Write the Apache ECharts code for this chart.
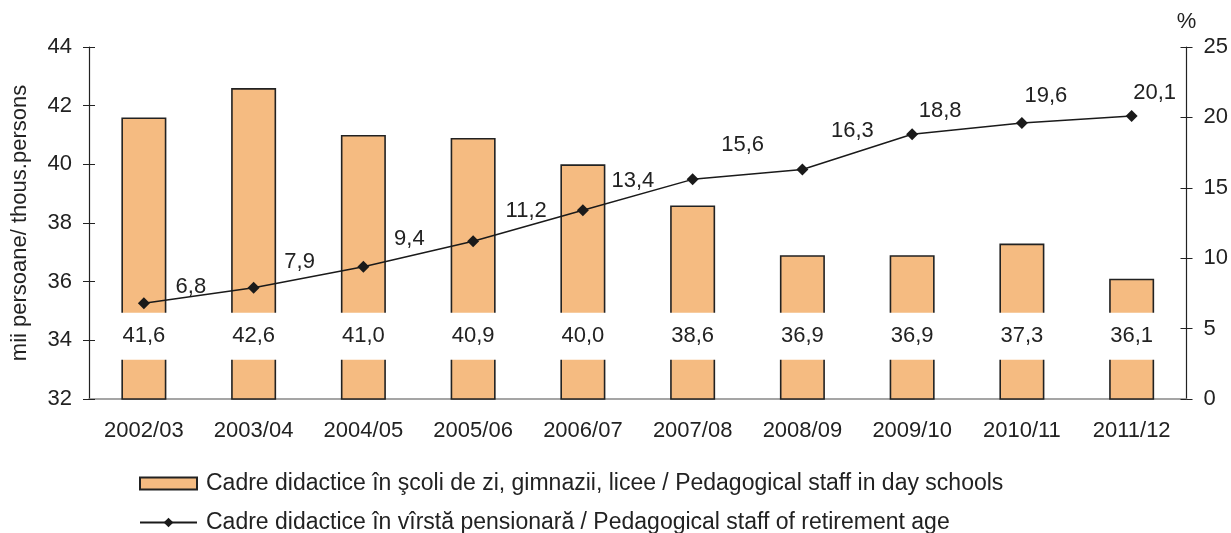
<!DOCTYPE html>
<html>
<head>
<meta charset="utf-8">
<script src="https://cdn.jsdelivr.net/npm/echarts@6/dist/echarts.min.js"></script>
<style>
  html, body { margin: 0; padding: 0; background: #fff; }
  #main { width: 1231px; height: 533px; }
</style>
</head>
<body>
<div id="main"></div>
<script>
// date
var ani = ['2002/03', '2003/04', '2004/05', '2005/06', '2006/07', '2007/08', '2008/09', '2009/10', '2010/11', '2011/12'];
var cadreScoli = [41.6, 42.6, 41.0, 40.9, 40.0, 38.6, 36.9, 36.9, 37.3, 36.1];
var cadrePensionari = [6.8, 7.9, 9.4, 11.2, 13.4, 15.6, 16.3, 18.8, 19.6, 20.1];

var numeBare = 'Cadre didactice în şcoli de zi, gimnazii, licee / Pedagogical staff in day schools';
var numeLinie = 'Cadre didactice în vîrstă pensionară / Pedagogical staff of retirement age';

// deplasarea etichetelor fata de puncte (stil)
var eticheteDeplasare = [[47, -16], [46, -26], [46, -28], [53, -30], [50, -29], [50, -34], [50, -39], [28, -23], [24, -27], [23, -23]];

function virgula(v) { return v.toFixed(1).replace('.', ','); }

var font = 'Liberation Sans, Arial, sans-serif';
var textCol = '#222';

var myChart = echarts.init(document.getElementById('main'));

var dateLinie = cadrePensionari.map(function (v, i) {
    return { value: v, label: { offset: eticheteDeplasare[i] } };
});

var legendaComuna = {
    orient: 'vertical',
    left: 134,
    itemWidth: 57,
    itemHeight: 12,
    textStyle: { fontSize: 23, color: textCol, fontFamily: font, padding: [0, 0, 0, 4] }
};

var option = {
    animation: false,
    textStyle: { fontFamily: font, color: textCol },
    grid: { left: 89, right: 43, top: 47, bottom: 134 },
    legend: [
        Object.assign({}, legendaComuna, { top: 467, data: [{ name: numeBare, icon: 'rect' }] }),
        Object.assign({}, legendaComuna, { top: 506, data: [numeLinie] })
    ],
    xAxis: {
        type: 'category',
        data: ani,
        boundaryGap: true,
        axisLine: { lineStyle: { color: '#888', width: 1.5 } },
        axisTick: { length: 6, lineStyle: { color: '#222', width: 1.2 } },
        axisLabel: { fontSize: 22, color: textCol, margin: 21, interval: 0 }
    },
    yAxis: [
        {
            type: 'value', min: 32, max: 44, interval: 2, position: 'left',
            name: 'mii persoane/ thous.persons',
            nameLocation: 'middle', nameRotate: 90, nameGap: 58,
            nameTextStyle: { fontSize: 22, color: textCol },
            axisLine: { show: true, lineStyle: { color: '#222', width: 1.2 } },
            axisTick: { show: true, length: 6, lineStyle: { color: '#222' } },
            axisLabel: { fontSize: 22, color: textCol, margin: 17 },
            splitLine: { show: false }
        },
        {
            type: 'value', min: 0, max: 25, interval: 5, position: 'right',
            name: '%', nameLocation: 'end', nameGap: 14,
            nameTextStyle: { fontSize: 22, color: textCol },
            axisLine: { show: true, lineStyle: { color: '#222', width: 1.2 } },
            axisTick: { show: true, length: 6, lineStyle: { color: '#222' } },
            axisLabel: { fontSize: 22, color: textCol, margin: 17 },
            splitLine: { show: false }
        },
        {
            // capetele interioare ale gradatiilor (stanga)
            type: 'value', min: 32, max: 44, interval: 2, position: 'left',
            axisLine: { show: false },
            axisTick: { show: true, inside: true, length: 6, lineStyle: { color: '#222' } },
            axisLabel: { show: false }, splitLine: { show: false }
        },
        {
            type: 'value', min: 0, max: 25, interval: 5, position: 'right',
            axisLine: { show: false },
            axisTick: { show: true, inside: true, length: 6, lineStyle: { color: '#222' } },
            axisLabel: { show: false }, splitLine: { show: false }
        }
    ],
    series: [
        {
            name: numeBare,
            type: 'bar',
            yAxisIndex: 0,
            barWidth: 45,
            data: cadreScoli,
            itemStyle: { color: '#F5BB81', borderColor: '#222', borderWidth: 1.6 },
            label: {
                show: true,
                position: 'insideBottom',
                distance: 40,
                formatter: function (p) { return virgula(p.value); },
                fontSize: 22,
                color: textCol,
                backgroundColor: '#fff',
                width: 52,
                align: 'center',
                lineHeight: 22,
                padding: [12, 0, 13, 0]
            }
        },
        {
            name: numeLinie,
            type: 'line',
            yAxisIndex: 1,
            data: dateLinie,
            symbol: 'diamond',
            symbolSize: 12,
            z: 5,
            lineStyle: { color: '#1a1a1a', width: 1.5 },
            itemStyle: { color: '#1a1a1a' },
            label: {
                show: true,
                position: 'inside',
                formatter: function (p) { return virgula(p.value); },
                fontSize: 22,
                color: textCol
            }
        }
    ]
};

myChart.setOption(option);
</script>
</body>
</html>
